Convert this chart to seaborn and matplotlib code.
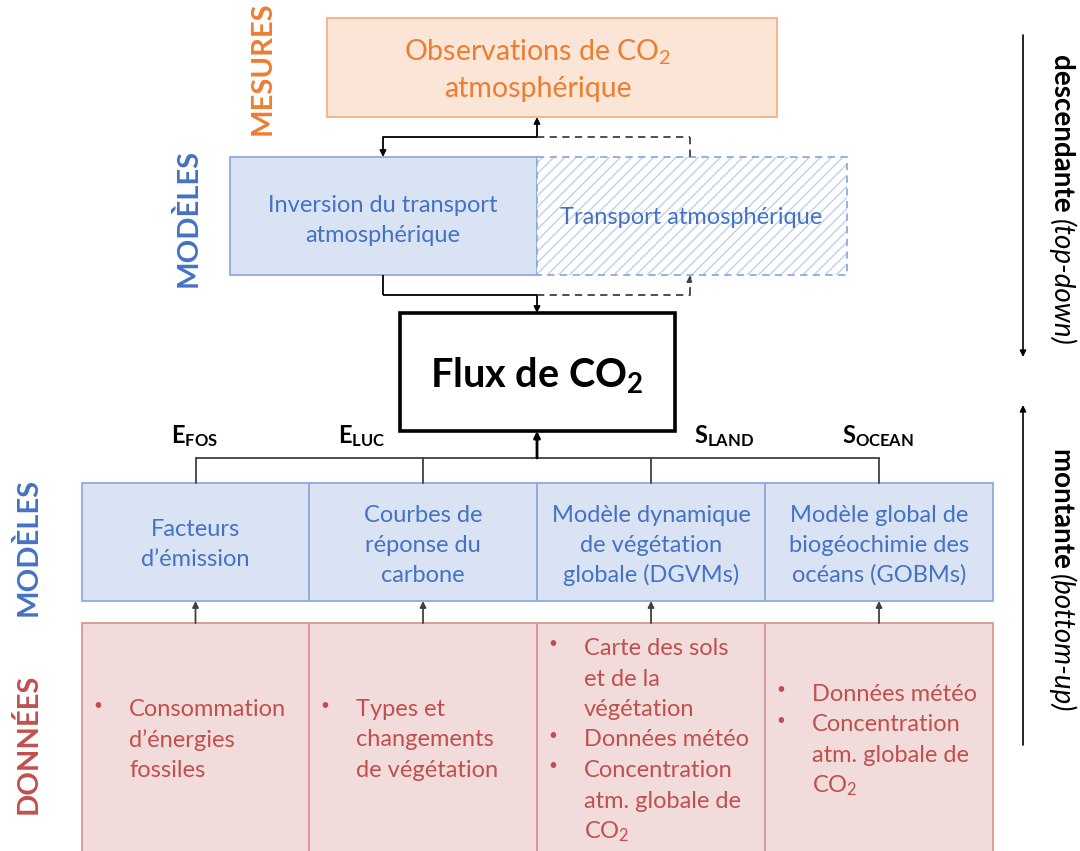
import matplotlib
matplotlib.use("Agg")
import matplotlib.pyplot as plt
from matplotlib.patches import Rectangle
import seaborn as sns

sns.set_theme(style="white")
plt.rcParams['font.family'] = ['Lato', 'DejaVu Sans']
plt.rcParams['mathtext.fontset'] = 'custom'
plt.rcParams['mathtext.rm'] = 'Lato'
plt.rcParams['mathtext.it'] = 'Lato:italic'
plt.rcParams['mathtext.bf'] = 'Lato:bold'
plt.rcParams['mathtext.default'] = 'regular'
plt.rcParams['hatch.linewidth'] = 1.0

# ---------------- content ----------------
side_labels = ["MESURES", "MODÈLES", "MODÈLES", "DONNÉES"]
obs_lines = ["Observations de CO$_2$", "atmosphérique"]
inv_lines = ["Inversion du transport", "atmosphérique"]
transport_label = "Transport atmosphérique"
flux_label = r"Flux de CO$_\mathbf{2}$"
flux_terms = [r"$\mathbf{E_{FOS}}$", r"$\mathbf{E_{LUC}}$", r"$\mathbf{S_{LAND}}$", r"$\mathbf{S_{OCEAN}}$"]
model_lines = [
    ["Facteurs", "d’émission"],
    ["Courbes de", "réponse du", "carbone"],
    ["Modèle dynamique", "de végétation", "globale (DGVMs)"],
    ["Modèle global de", "biogéochimie des", "océans (GOBMs)"],
]
data_items = [
    [["Consommation", "d’énergies", "fossiles"]],
    [["Types et", "changements", "de végétation"]],
    [["Carte des sols", "et de la", "végétation"], ["Données météo"],
     ["Concentration", "atm. globale de", "CO$_2$"]],
    [["Données météo"], ["Concentration", "atm. globale de", "CO$_2$"]],
]
direction_labels = [("descendante", "(top-down)"), ("montante", "(bottom-up)")]

# ---------------- colours ----------------
ORANGE_T, ORANGE_F, ORANGE_E = "#ED7D31", "#FBE5D6", "#F4B183"
BLUE_T, BLUE_F, BLUE_E = "#4472C4", "#DAE3F3", "#8FAADC"
RED_T, RED_F, RED_E = "#C0504D", "#F2DCDB", "#D99694"
HATCH_C = "#BFD0EC"
GREY = "#404040"

fig = plt.figure(figsize=(10.8, 8.51), dpi=100)
ax = fig.add_axes([0, 0, 1, 1])
ax.set_xlim(0, 1080)
ax.set_ylim(851, 0)
ax.axis("off")


def box(x0, y0, x1, y1, fc, ec, lw=1.3, ls="-", hatch=None, z=1):
    ax.add_patch(Rectangle((x0, y0), x1 - x0, y1 - y0, facecolor=fc,
                           edgecolor=ec, lw=lw, ls=ls, hatch=hatch, zorder=z))


def lines_text(xc, yc, lines, pitch, color, size, ha="center"):
    n = len(lines)
    for i, s in enumerate(lines):
        y = yc + (i - (n - 1) / 2) * pitch
        ax.text(xc, y, s, ha=ha, va="center", color=color, fontsize=size, zorder=5)


def arrow(x0, y0, x1, y1, lw=1.3, color="black", ls="-", head=True):
    if head:
        ax.annotate("", xy=(x1, y1), xytext=(x0, y0),
                    arrowprops=dict(arrowstyle="-|>", mutation_scale=9, lw=lw,
                                    color=color, ls=ls, shrinkA=0, shrinkB=0),
                    zorder=4)
    else:
        ax.plot([x0, x1], [y0, y1], color=color, lw=lw, ls=ls, zorder=4,
                solid_capstyle="butt")


TXT = 17

# ---------------- top part ----------------
box(327, 18, 777, 117, ORANGE_F, ORANGE_E)
lines_text(538, 71, obs_lines, 37, ORANGE_T, 20.5)

box(230, 157, 537, 275, BLUE_F, BLUE_E)
lines_text(383, 221, inv_lines, 30, BLUE_T, TXT)
box(537, 157, 847, 275, "white", HATCH_C, lw=0, hatch="///", z=1)
box(537, 157, 847, 275, "none", BLUE_E, lw=1.3, ls=(0, (4, 3)), z=2)
ax.text(691, 218, transport_label, ha="center", va="center", color=BLUE_T,
        fontsize=TXT, zorder=5)

# connectors between observation box and models
DASH = (0, (4, 3))
arrow(537, 137, 537, 117)
arrow(537, 137, 383, 137, head=False)
arrow(383, 137, 383, 157)
arrow(537, 137, 690, 137, ls=DASH, color=GREY, head=False)
arrow(690, 137, 690, 157, ls=DASH, color=GREY, head=False)

arrow(383, 275, 383, 295, head=False)
arrow(383, 295, 537, 295, head=False)
arrow(537, 295, 537, 313)
arrow(537, 295, 690, 295, ls=DASH, color=GREY, head=False)
arrow(690, 295, 690, 275, ls=DASH, color=GREY)

# flux box
box(400, 313, 675, 431, "white", "black", lw=2.6)
ax.text(537, 376, flux_label, ha="center", va="center", color="black",
        fontsize=28.5, fontweight="bold", zorder=5)

# ---------------- bottom part ----------------
col_edges = [82, 309, 537, 765, 993]
term_x = [195, 362, 724, 878]
for tx, lab in zip(term_x, flux_terms):
    ax.text(tx, 436, lab, ha="center", va="center", fontsize=17, color="black")

centers = [(col_edges[i] + col_edges[i + 1]) / 2 for i in range(4)]
ax.plot([centers[0], centers[-1]], [458, 458], color=GREY, lw=1.3, zorder=3)
for c in centers:
    ax.plot([c, c], [458, 483], color=GREY, lw=1.3, zorder=3)
arrow(537, 458, 537, 431, lw=2.0)

for i in range(4):
    x0, x1 = col_edges[i], col_edges[i + 1]
    box(x0, 483, x1, 601, BLUE_F, BLUE_E)
    lines_text(centers[i], 545, model_lines[i], 30, BLUE_T, TXT)
    box(x0, 623, x1, 860, RED_F, RED_E)
    arrow(centers[i], 623, centers[i], 601, color=GREY)

    # bulleted data text
    items = data_items[i]
    all_lines = [ln for it in items for ln in it]
    n = len(all_lines)
    pitch = 30.5
    k = 0
    for it in items:
        for j, ln in enumerate(it):
            y = 740 + (k - (n - 1) / 2) * pitch
            if j == 0:
                ax.text(x0 + 16, y - 4, "•", ha="center", va="center",
                        color=RED_T, fontsize=11, zorder=5)
            ax.text(x0 + 47, y, ln, ha="left", va="center", color=RED_T,
                    fontsize=TXT, zorder=5)
            k += 1

# side labels
ax.text(263, 68, side_labels[0], rotation=90, ha="center", va="center",
        color=ORANGE_T, fontsize=21, fontweight="bold")
ax.text(188, 218, side_labels[1], rotation=90, ha="center", va="center",
        color=BLUE_T, fontsize=21, fontweight="bold")
ax.text(28, 547, side_labels[2], rotation=90, ha="center", va="center",
        color=BLUE_T, fontsize=21, fontweight="bold")
ax.text(28, 744, side_labels[3], rotation=90, ha="center", va="center",
        color=RED_T, fontsize=21, fontweight="bold")

# right direction arrows
arrow(1023, 35, 1023, 357, lw=1.2)
arrow(1023, 745, 1023, 405, lw=1.2)

renderer = fig.canvas.get_renderer()
for (bold, ital), yc in zip(direction_labels, [200, 580]):
    t1 = ax.text(1062, 0, bold + " ", rotation=270, ha="center", va="top",
                 fontsize=20, fontweight="bold", color="black")
    t2 = ax.text(1062, 0, ital, rotation=270, ha="center", va="top",
                 fontsize=20, fontstyle="italic", color="black")
    h1 = t1.get_window_extent(renderer).height
    h2 = t2.get_window_extent(renderer).height
    total = h1 + h2
    ytop = yc - total / 2
    t1.set_y(ytop)
    t2.set_y(ytop + h1)

fig.savefig("out.png", dpi=100)
